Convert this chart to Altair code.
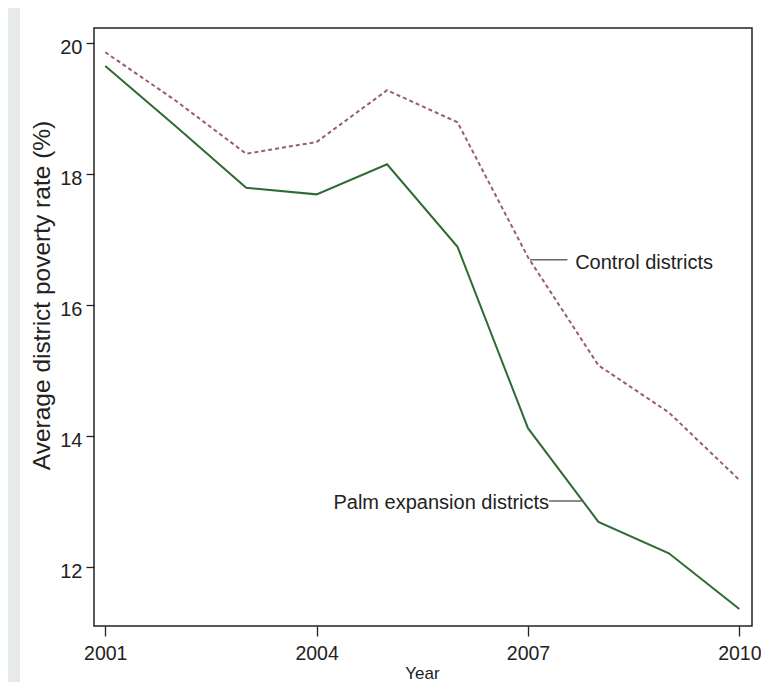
import altair as alt
import pandas as pd

years = [2001, 2002, 2003, 2004, 2005, 2006, 2007, 2008, 2009, 2010]
palm = [19.65, 18.73, 17.79, 17.69, 18.15, 16.89, 14.12, 12.69, 12.21, 11.36]
control = [19.86, 19.12, 18.31, 18.49, 19.28, 18.79, 16.73, 15.08, 14.36, 13.33]

label_text = ["Control districts", "Palm expansion districts"]
label_x = [2007.67, 2007.30]
label_y = [16.64, 12.98]
label_align = ["left", "right"]
conn_x = [2007.03, 2007.30]
conn_x2 = [2007.56, 2007.79]
conn_y = [16.69, 13.01]

x_ticks = [2001, 2004, 2007, 2010]
y_ticks = [12, 14, 16, 18, 20]

FONT = "Liberation Sans, Arial, Helvetica, sans-serif"

W, H = 658, 598

df = pd.DataFrame({"year": years, "palm": palm, "control": control})
lab = pd.DataFrame({"t": label_text, "x": label_x, "y": label_y, "a": label_align})
con = pd.DataFrame({"x": conn_x, "x2": conn_x2, "y": conn_y})

xs = alt.Scale(domain=[2000.84, 2010.18], nice=False, zero=False)
ys = alt.Scale(domain=[11.10, 20.23], nice=False, zero=False)

xaxis = alt.Axis(values=x_ticks, format="d", title="Year", grid=False, domain=False,
                 tickSize=10, tickColor="#222", tickWidth=1.3,
                 labelFont=FONT, labelFontSize=19.5, labelColor="#222", labelPadding=8,
                 titleFont=FONT, titleFontSize=17, titleFontWeight="normal",
                 titleColor="#222", titleBaseline="alphabetic", titleY=52, titleX=W / 2 - 1)
yaxis = alt.Axis(values=y_ticks, format="d", title="Average district poverty rate (%)",
                 grid=False, domain=False, tickSize=8, tickColor="#222", tickWidth=1.3,
                 labelFont=FONT, labelFontSize=20, labelColor="#222", labelPadding=4,
                 labelOffset=4,
                 titleFont=FONT, titleFontSize=24.5, titleFontWeight="normal",
                 titleColor="#222", titleBaseline="middle", titleX=-52, titleY=267)

strip = alt.Chart(pd.DataFrame({"d": [0]})).mark_rect(color="#e6eae9").encode(
    x=alt.value(-86), x2=alt.value(-74), y=alt.value(-20), y2=alt.value(H + 56)
)

base = alt.Chart(df).encode(x=alt.X("year:Q", scale=xs, axis=xaxis))

control_line = base.mark_line(color="#9a5c6e", strokeWidth=2, strokeDash=[4, 3]).encode(
    y=alt.Y("control:Q", scale=ys, axis=yaxis)
)
palm_line = base.mark_line(color="#2e6b33", strokeWidth=2).encode(
    y=alt.Y("palm:Q", scale=ys)
)

conn = alt.Chart(con).mark_rule(color="#666", strokeWidth=1.5).encode(
    x=alt.X("x:Q", scale=xs), x2="x2:Q", y=alt.Y("y:Q", scale=ys)
)

txt_left = alt.Chart(lab[lab.a == "left"]).mark_text(
    align="left", baseline="middle", font=FONT, fontSize=20, color="#222"
).encode(x=alt.X("x:Q", scale=xs), y=alt.Y("y:Q", scale=ys), text="t:N")
txt_right = alt.Chart(lab[lab.a == "right"]).mark_text(
    align="right", baseline="middle", font=FONT, fontSize=20, color="#222"
).encode(x=alt.X("x:Q", scale=xs), y=alt.Y("y:Q", scale=ys), text="t:N")

chart = alt.layer(strip, control_line, palm_line, conn, txt_left, txt_right).properties(
    width=W, height=H,
    autosize=alt.AutoSizeParams(type="none"),
    padding={"left": 86, "top": 20, "right": 9, "bottom": 56},
    background="white",
).configure_view(stroke="#222", strokeWidth=1.5)

chart.save("out.html", embed_options={"renderer": "svg", "actions": False})
